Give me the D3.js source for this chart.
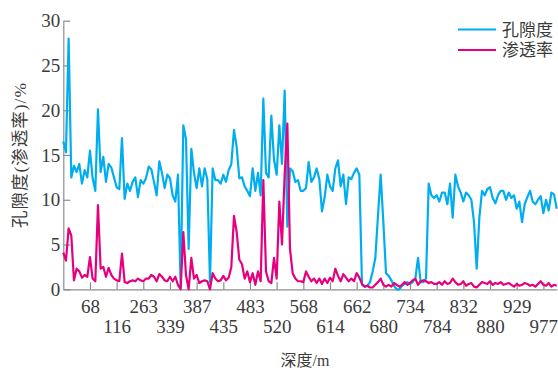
<!DOCTYPE html>
<html>
<head>
<meta charset="utf-8">
<script src="https://cdn.jsdelivr.net/npm/d3@7"></script>
<style>
  body { margin: 0; background: #fff; }
  svg { display: block; }
  .tick-label { font-family: "Liberation Serif", "Noto Sans CJK SC", serif; font-size: 19px; fill: #3c3c3c; }
  .cjk-label { font-family: "Liberation Serif", "Noto Sans CJK SC", serif; font-size: 16px; fill: #3c3c3c; }
  .legend-label { font-family: "Noto Sans CJK SC", sans-serif; font-size: 17px; fill: #3c3c3c; }
</style>
</head>
<body>
<svg id="chart" width="558" height="370"></svg>
<script>
// tick labels along the depth axis (one every 10 samples)
var depthLabels = ["68", "116", "263", "339", "387", "435", "483", "520", "568",
  "614", "662", "680", "734", "784", "832", "880", "929", "977"];
var yTicks = [0, 5, 10, 15, 20, 25, 30];
var seriesNames = ["孔隙度", "渗透率"];

// porosity (%), one value per sample
var porosity = [
  16.5, 15.3, 28.0, 12.5, 13.8, 13.1, 14.0, 11.8, 13.3, 12.5,
  15.5, 12.4, 11.0, 20.1, 13.1, 14.8, 12.0, 14.0, 13.6, 12.5,
  11.4, 11.2, 16.9, 10.1, 11.8, 11.0, 12.0, 12.5, 10.3, 12.2,
  11.8, 12.4, 13.7, 13.4, 12.0, 10.5, 14.3, 13.0, 11.3, 12.8,
  12.4, 10.5, 9.8, 12.8, 0.3, 18.3, 16.8, 4.5, 15.7, 13.0,
  11.3, 13.5, 11.5, 13.5, 12.3, 0.8, 13.5, 12.2, 12.2, 11.8,
  12.8, 12.0, 13.3, 14.0, 17.8, 15.9, 12.4, 12.5, 11.5, 11.0,
  10.4, 13.5, 11.0, 13.0, 10.5, 21.3, 13.0, 12.5, 19.4, 14.5,
  12.8, 18.3, 14.0, 22.2, 7.0, 13.5, 13.2, 12.0, 12.2, 11.0,
  11.0, 11.3, 14.2, 12.0, 12.5, 13.5, 12.3, 8.7, 10.3, 12.8,
  11.5, 11.0, 13.5, 14.4, 11.5, 12.8, 9.5, 12.5, 12.3, 13.0,
  13.5, 12.8, 0.5, 0.3, 0.4, 0.8, 2.0, 3.5, 8.3, 12.8,
  7.5, 1.8, 1.5, 1.0, 0.4, 0.0, 0.0, 0.4, 0.6, 0.8,
  0.6, 0.8, 1.2, 3.5, 0.8, 0.8, 1.2, 11.8, 10.5, 10.2,
  10.5, 9.8, 10.8, 10.8, 9.5, 11.8, 8.0, 12.8, 11.5, 10.8,
  9.8, 10.8, 10.5, 10.0, 7.5, 2.3, 8.0, 11.0, 10.5, 11.2,
  11.4, 10.2, 9.6, 10.5, 11.0, 11.0, 10.0, 10.8, 10.2, 10.5,
  9.0, 9.8, 7.5, 9.5, 10.3, 11.0, 9.8, 9.5, 10.0, 10.4,
  8.5, 10.0, 8.8, 10.8, 10.6, 9.0
];

// permeability, one value per sample
var permeability = [
  4.1, 3.2, 6.8, 6.0, 1.0, 2.3, 2.0, 1.3, 1.6, 1.4,
  3.6, 1.2, 0.9, 9.4, 2.3, 2.5, 1.4, 2.4, 1.6, 1.2,
  1.0, 0.9, 4.0, 0.8, 0.7, 0.9, 1.0, 0.9, 1.2, 1.0,
  0.9, 1.2, 1.2, 1.6, 1.4, 0.9, 1.7, 1.4, 1.0, 0.9,
  1.4, 0.9, 1.4, 0.5, 0.0, 6.4, 1.6, 0.0, 3.5, 1.2,
  1.6, 0.7, 0.9, 1.0, 0.9, 0.0, 1.8, 1.2, 0.9, 1.0,
  1.5, 1.0, 1.3, 2.5, 8.2, 6.4, 3.3, 2.8, 1.2, 2.0,
  0.8, 1.8, 0.5, 2.0, 0.9, 12.2, 2.0, 0.9, 0.7, 3.5,
  1.2, 9.8, 5.0, 12.8, 18.5, 4.5, 1.8, 1.2, 0.9, 0.9,
  0.8, 2.0, 1.4, 0.9, 1.2, 0.7, 1.2, 0.6, 1.2, 0.7,
  1.3, 0.9, 2.3, 1.5, 0.9, 1.7, 1.3, 0.9, 1.2, 0.9,
  1.8, 1.3, 0.6, 0.3, 0.4, 0.2, 0.2, 0.5, 0.8, 1.2,
  0.5, 0.3, 0.5, 0.3, 0.7, 0.5, 0.3, 0.5, 0.8, 0.5,
  0.7, 1.0, 1.2, 0.5, 0.9, 1.0, 0.9, 0.7, 0.8, 0.6,
  0.6, 0.8, 0.5, 0.9, 0.6, 0.7, 1.2, 0.8, 0.5, 0.6,
  0.9, 0.4, 0.6, 0.7, 0.3, 0.2, 0.5, 0.8, 0.7, 0.6,
  0.9, 0.5, 0.7, 0.6, 0.8, 0.5, 0.6, 0.7, 0.5, 0.3,
  0.6, 0.4, 0.5, 0.7, 0.6, 0.4, 0.5, 0.3, 0.6, 0.9,
  0.5, 0.4, 0.7, 0.3, 0.5, 0.4
];

var colors = ["#00aeef", "#e5007f"];
var plotLeft = 63.3, plotRight = 556.7, plotTop = 20.7, plotBottom = 289.3;

var svg = d3.select("#chart");

var x = d3.scaleLinear().domain([0, porosity.length - 1]).range([plotLeft, plotRight]);
var y = d3.scaleLinear().domain([0, 30]).range([plotBottom, plotTop]);

// x axis: inward ticks every 10 samples, labels in two staggered rows
var xAxis = d3.axisBottom(x)
  .tickValues(depthLabels.map(function(d, i) { return (i + 1) * 10; }))
  .tickSizeInner(-7)
  .tickSizeOuter(0)
  .tickFormat(function(d, i) { return depthLabels[i]; });

var gx = svg.append("g")
  .attr("transform", "translate(0," + plotBottom + ")")
  .call(xAxis);
gx.select(".domain").attr("stroke", "#8c8c8c").attr("stroke-width", 1.2);
gx.selectAll(".tick line").attr("stroke", "#8c8c8c").attr("stroke-width", 1.2);
gx.selectAll(".tick text")
  .attr("class", "tick-label")
  .attr("y", function(d, i) { return i % 2 === 0 ? 24 : 44; })
  .attr("dy", 0)
  .attr("fill", null);

// y axis
var yAxis = d3.axisLeft(y)
  .tickValues(yTicks)
  .tickSizeInner(-7)
  .tickSizeOuter(0)
  .tickPadding(4);

var gy = svg.append("g")
  .attr("transform", "translate(" + plotLeft + ",0)")
  .call(yAxis);
gy.select(".domain").attr("stroke", "#8c8c8c").attr("stroke-width", 1.2);
gy.selectAll(".tick line").attr("stroke", "#8c8c8c").attr("stroke-width", 1.2);
gy.selectAll(".tick text")
  .attr("class", "tick-label")
  .attr("x", -3)
  .attr("fill", null);

// series lines, porosity first so permeability sits on top
var line = d3.line()
  .x(function(d, i) { return x(i); })
  .y(function(d) { return y(d); });

[porosity, permeability].forEach(function(series, k) {
  svg.append("path")
    .datum(series)
    .attr("fill", "none")
    .attr("stroke", colors[k])
    .attr("stroke-width", 2.2)
    .attr("stroke-linejoin", "round")
    .attr("d", line);
});

// axis titles
svg.append("text")
  .attr("class", "cjk-label")
  .attr("text-anchor", "middle")
  .attr("x", 305)
  .attr("y", 366)
  .text("深度/m");

svg.append("text")
  .attr("class", "cjk-label")
  .style("font-size", "17.5px")
  .style("letter-spacing", "1px")
  .attr("text-anchor", "middle")
  .attr("transform", "translate(26," + ((plotTop + plotBottom) / 2) + ") rotate(-90)")
  .text("孔隙度(渗透率)/%");

// legend
var legend = svg.append("g").attr("transform", "translate(458,0)");
seriesNames.forEach(function(name, k) {
  var ly = 29.5 + k * 20.5;
  legend.append("line")
    .attr("x1", 0).attr("x2", 38)
    .attr("y1", ly).attr("y2", ly)
    .attr("stroke", colors[k])
    .attr("stroke-width", 2);
  legend.append("text")
    .attr("class", "legend-label")
    .attr("x", 44)
    .attr("y", ly)
    .attr("dy", "0.36em")
    .text(name);
});
</script>
</body>
</html>
